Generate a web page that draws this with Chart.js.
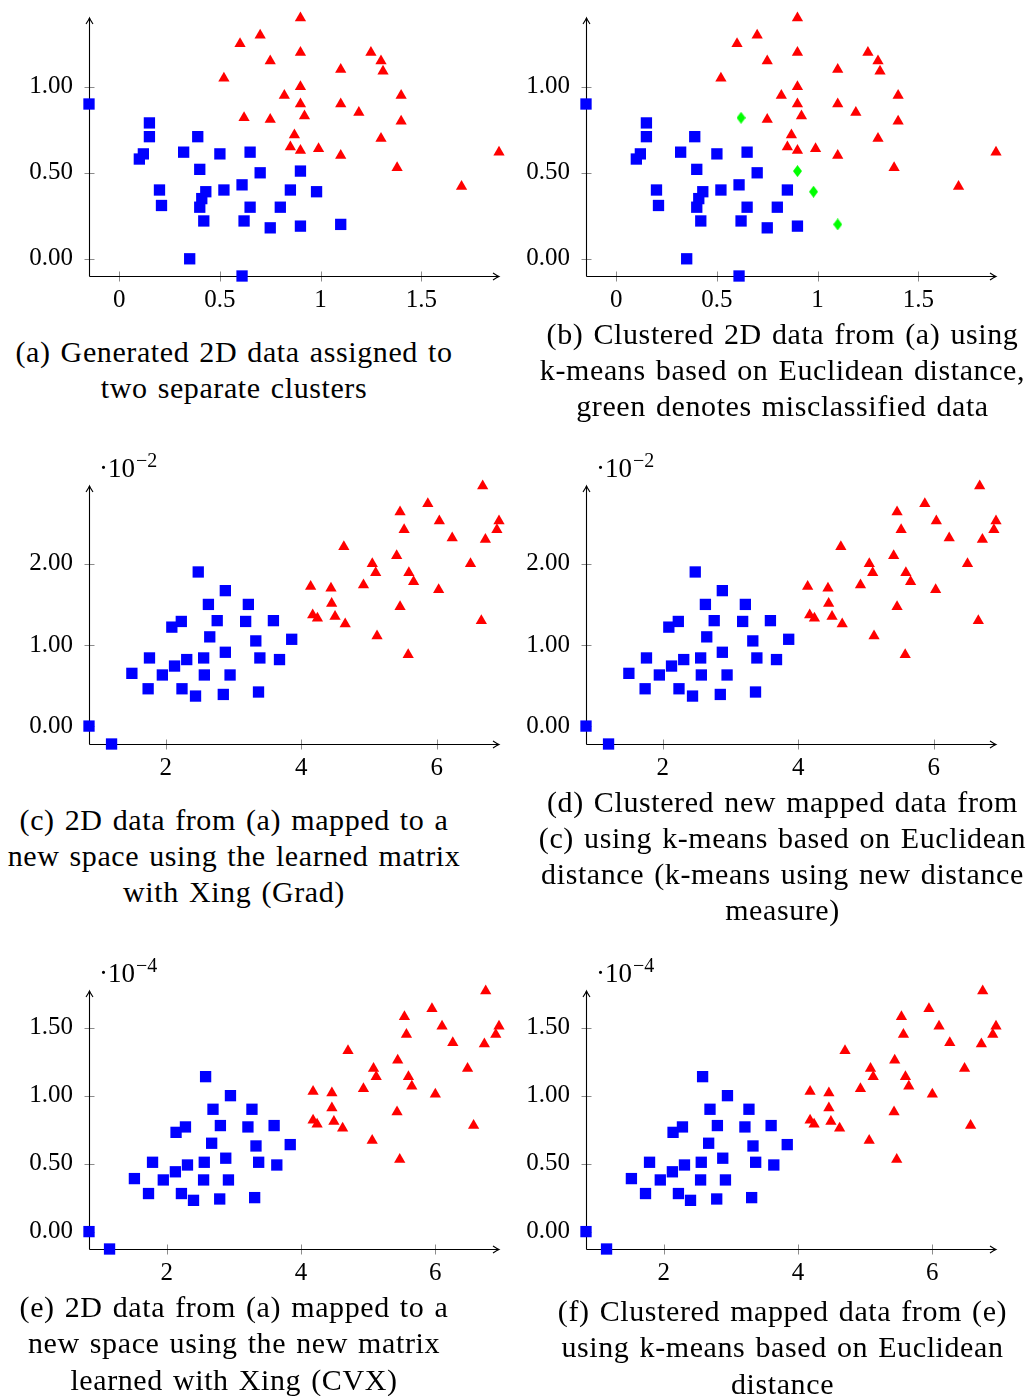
<!DOCTYPE html>
<html>
<head>
<meta charset="utf-8">
<script src="https://cdn.jsdelivr.net/npm/chart.js@4.4.0/dist/chart.umd.min.js"></script>
<style>
  body { margin: 0; background: #fff; }
  #fig { position: relative; width: 1027px; height: 1396px; overflow: hidden; }
  canvas.panel { position: absolute; }
  .cap {
    position: absolute; width: 560px; text-align: center; white-space: nowrap;
    font-family: 'Liberation Serif', serif; font-size: 30px; line-height: 36px;
    letter-spacing: 0.6px; word-spacing: 2px; color: #000;
  }
</style>
</head>
<body>
<div id="fig"></div>
<script>
// ---- data ----

// (a) generated 2D data, (b) same data after k-means
const blueA = [[-0.15,0.90],[0.15,0.79],[0.15,0.71],[0.12,0.61],[0.10,0.58],[0.32,0.62],[0.39,0.71],[0.50,0.61],
  [0.65,0.62],[0.40,0.52],[0.70,0.50],[0.90,0.51],[0.20,0.40],[0.21,0.31],[0.43,0.39],[0.41,0.35],[0.40,0.30],
  [0.52,0.40],[0.61,0.43],[0.85,0.40],[0.98,0.39],[0.65,0.30],[0.80,0.30],[0.42,0.22],[0.62,0.22],[0.75,0.18],
  [0.90,0.19],[1.10,0.20],[0.35,0.00],[0.61,-0.10]];
const redA = [[0.90,1.40],[0.70,1.30],[0.60,1.25],[0.90,1.20],[0.75,1.15],[1.25,1.20],[1.30,1.15],[1.31,1.09],
  [1.10,1.10],[0.52,1.05],[0.90,1.00],[0.82,0.95],[1.40,0.95],[0.90,0.90],[1.10,0.90],[1.19,0.85],[0.92,0.83],
  [0.62,0.82],[0.75,0.81],[1.40,0.80],[0.87,0.72],[1.30,0.70],[0.85,0.65],[0.90,0.63],[0.99,0.64],[1.10,0.60],
  [1.886,0.62],[1.38,0.53],[1.70,0.42]];
const greenB = [[0.62,0.82],[0.90,0.51],[0.98,0.39],[1.10,0.20]]; // misclassified in (b)

// (c)/(d) mapped with Xing (Grad), y in 1e-2
const blueC = [[0.867,0.00],[1.20,-0.221],[1.50,0.65],[1.74,0.46],[1.76,0.84],[1.95,0.63],[2.09,1.22],[2.23,1.29],
  [2.13,0.74],[2.31,0.82],[2.24,0.46],[2.44,0.37],[2.48,1.90],[2.56,0.84],[2.57,0.63],[2.65,1.10],[2.63,1.50],
  [2.76,1.30],[2.88,1.67],[2.88,0.91],[2.95,0.63],[2.85,0.39],[3.22,1.50],[3.18,1.29],[3.33,1.05],[3.39,0.84],
  [3.37,0.42],[3.59,1.30],[3.68,0.82],[3.86,1.07]];
const redC = [[6.68,2.96],[5.87,2.74],[5.46,2.64],[6.04,2.53],[6.921,2.53],[5.52,2.42],[6.89,2.42],[6.23,2.32],
  [6.72,2.30],[4.63,2.21],[5.41,2.10],[5.05,2.00],[6.50,2.00],[5.10,1.89],[5.59,1.89],[5.66,1.78],[4.92,1.74],
  [4.14,1.72],[4.44,1.70],[6.03,1.68],[4.45,1.51],[5.46,1.47],[4.17,1.37],[4.24,1.33],[4.50,1.35],[4.65,1.26],
  [6.66,1.30],[5.12,1.11],[5.58,0.88]];

// (e)/(f) mapped with Xing (CVX), y in 1e-4
const blueE = [[0.844,0.00],[1.15,-0.128],[1.52,0.39],[1.73,0.28],[1.79,0.51],[1.95,0.38],[2.13,0.44],[2.14,0.73],
  [2.28,0.77],[2.22,0.28],[2.31,0.49],[2.40,0.23],[2.56,0.51],[2.55,0.38],[2.58,1.14],[2.67,0.65],[2.69,0.90],
  [2.80,0.78],[2.88,0.54],[2.92,0.38],[2.79,0.24],[2.95,1.00],[3.27,0.90],[3.21,0.77],[3.33,0.63],[3.37,0.51],
  [3.31,0.25],[3.60,0.78],[3.64,0.49],[3.84,0.64]];
const redE = [[6.75,1.77],[5.95,1.64],[5.54,1.58],[6.10,1.51],[6.948,1.51],[5.57,1.45],[6.90,1.45],[6.26,1.39],
  [6.73,1.38],[4.70,1.33],[5.44,1.26],[5.08,1.20],[6.48,1.20],[5.12,1.14],[5.60,1.14],[5.65,1.07],[4.93,1.05],
  [4.18,1.03],[4.46,1.02],[6.00,1.01],[4.46,0.91],[5.43,0.88],[4.18,0.82],[4.24,0.79],[4.49,0.81],[4.62,0.76],
  [6.57,0.78],[5.06,0.67],[5.47,0.53]];

// tick values
const xTicksA = [0, 0.5, 1, 1.5];
const yTicksA = [0, 0.5, 1];
const xTicksC = [2, 4, 6];
const yTicksC = [0, 1, 2];
const xTicksE = [2, 4, 6];
const yTicksE = [0, 0.5, 1, 1.5];

// ---- helpers ----
const PAD = { left: 90, top: 40, right: 12, bottom: 45 };
const fig = document.getElementById('fig');

Chart.defaults.font.family = "'Liberation Serif', serif";
Chart.defaults.color = '#000';

const isGreen = p => greenB.some(g => g[0] === p[0] && g[1] === p[1]);
const toXY = pts => pts.map(([x, y]) => ({ x, y }));

// pgfplots style diamond* marker
const diamond = document.createElement('canvas');
diamond.width = 9; diamond.height = 12;
(function () {
    const c = diamond.getContext('2d');
    c.fillStyle = '#00ff00';
    c.beginPath();
    c.moveTo(4.5, 0); c.lineTo(9, 6); c.lineTo(4.5, 12); c.lineTo(0, 6);
    c.closePath(); c.fill();
})();

const blueSet = pts => ({ pts, style: 'rect', r: 8, color: '#0000ff' });
const redSet = pts => ({ pts, style: 'triangle', r: 6.5, color: '#ff0000' });
const greenSet = pts => ({ pts, style: diamond, r: 6, color: '#00ff00' });

// axis lines with arrow tips, crossing ticks, and the 10^k multiplier
const arrowAxes = {
    id: 'arrowAxes',
    beforeDatasetsDraw(chart, args, opts) {
        const { ctx, chartArea: a, scales: { x, y } } = chart;
        const L = Math.round(a.left) + 0.5, B = Math.round(a.bottom) + 0.5;
        ctx.save();
        ctx.lineWidth = 1;
        ctx.strokeStyle = '#8c8c8c';
        ctx.beginPath();
        x.ticks.forEach(t => {
            const px = Math.round(x.getPixelForValue(t.value)) + 0.5;
            ctx.moveTo(px, B - 5); ctx.lineTo(px, B + 5);
        });
        y.ticks.forEach(t => {
            const py = Math.round(y.getPixelForValue(t.value)) + 0.5;
            ctx.moveTo(L - 5, py); ctx.lineTo(L + 5, py);
        });
        ctx.stroke();

        ctx.strokeStyle = '#000';
        ctx.lineWidth = 1.1;
        ctx.beginPath();
        ctx.moveTo(L, B); ctx.lineTo(a.right, B);
        ctx.moveTo(L, B); ctx.lineTo(L, a.top);
        ctx.stroke();
        // "to" arrow tips
        ctx.beginPath();
        ctx.moveTo(a.right - 6, B - 3.5); ctx.quadraticCurveTo(a.right - 2, B - 0.8, a.right, B);
        ctx.quadraticCurveTo(a.right - 2, B + 0.8, a.right - 6, B + 3.5);
        ctx.moveTo(L - 3.5, a.top + 6); ctx.quadraticCurveTo(L - 0.8, a.top + 2, L, a.top);
        ctx.quadraticCurveTo(L + 0.8, a.top + 2, L + 3.5, a.top + 6);
        ctx.stroke();

        if (opts.exponent) {
            ctx.fillStyle = '#000';
            ctx.textBaseline = 'alphabetic';
            ctx.font = "27px 'Liberation Serif', serif";
            const bx = a.left + 10, by = a.top - 9;
            ctx.fillText('\u00b710', bx, by);
            const w = ctx.measureText('\u00b710').width;
            ctx.font = "20px 'Liberation Serif', serif";
            ctx.fillText(opts.exponent, bx + w + 1, by - 10);
        }
        ctx.restore();
    }
};

function axis(range, ticks, fmt, dir) {
    return {
        type: 'linear', min: range[0], max: range[1], bounds: 'data',
        grid: { display: false, drawTicks: false },
        border: { display: false },
        ticks: {
            padding: dir === 'x' ? 9 : 16,
            font: { size: 25 },
            color: '#000',
            maxRotation: 0,
            autoSkip: false,
            callback: v => fmt(v)
        },
        afterBuildTicks: s => { s.ticks = ticks.map(v => ({ value: v })); },
        afterFit: s => {
            if (dir === 'x') s.height = PAD.bottom; else s.width = PAD.left;
            s.paddingLeft = s.paddingRight = s.paddingTop = s.paddingBottom = 0;
        }
    };
}

function makePanel(p) {
    const cv = document.createElement('canvas');
    cv.className = 'panel';
    const W = p.area.r - p.area.l + PAD.left + PAD.right;
    const H = p.area.b - p.area.t + PAD.top + PAD.bottom;
    cv.width = W; cv.height = H;
    cv.style.width = W + 'px'; cv.style.height = H + 'px';
    cv.style.left = (p.area.l - PAD.left) + 'px';
    cv.style.top = (p.area.t - PAD.top) + 'px';
    fig.appendChild(cv);

    return new Chart(cv, {
        type: 'scatter',
        data: {
            datasets: p.sets.map(s => ({
                data: toXY(s.pts),
                pointStyle: s.style,
                pointRadius: s.r,
                pointHoverRadius: s.r,
                pointBackgroundColor: s.color,
                pointBorderWidth: 0,
                pointHoverBorderWidth: 0,
                clip: false
            }))
        },
        options: {
            responsive: false,
            animation: false,
            events: [],
            layout: { padding: { left: 0, top: PAD.top, right: PAD.right, bottom: 0 } },
            plugins: {
                legend: { display: false },
                tooltip: { enabled: false },
                arrowAxes: { exponent: p.exp || '' }
            },
            scales: {
                x: axis(p.xr, p.xt, p.xfmt, 'x'),
                y: axis(p.yr, p.yt, p.yfmt, 'y')
            }
        },
        plugins: [arrowAxes]
    });
}

const fmtPlain = v => String(v);
const fmt2 = v => v.toFixed(2);
const DX = 497; // right column offset

const panels = [
    { area: { l: 89, t: 18, r: 499, b: 276 }, xr: [-0.15, 1.886], yr: [-0.10, 1.40],
      xt: xTicksA, yt: yTicksA, xfmt: fmtPlain, yfmt: fmt2,
      sets: [blueSet(blueA), redSet(redA)] },
    { area: { l: 89 + DX, t: 18, r: 499 + DX, b: 276 }, xr: [-0.15, 1.886], yr: [-0.10, 1.40],
      xt: xTicksA, yt: yTicksA, xfmt: fmtPlain, yfmt: fmt2,
      sets: [blueSet(blueA.filter(p => !isGreen(p))), redSet(redA.filter(p => !isGreen(p))), greenSet(greenB)] },
    { area: { l: 89, t: 486, r: 499, b: 744 }, xr: [0.867, 6.921], yr: [-0.221, 2.96],
      xt: xTicksC, yt: yTicksC, xfmt: fmtPlain, yfmt: fmt2, exp: '\u22122',
      sets: [blueSet(blueC), redSet(redC)] },
    { area: { l: 89 + DX, t: 486, r: 499 + DX, b: 744 }, xr: [0.867, 6.921], yr: [-0.221, 2.96],
      xt: xTicksC, yt: yTicksC, xfmt: fmtPlain, yfmt: fmt2, exp: '\u22122',
      sets: [blueSet(blueC), redSet(redC)] },
    { area: { l: 89, t: 991, r: 499, b: 1249 }, xr: [0.844, 6.948], yr: [-0.128, 1.77],
      xt: xTicksE, yt: yTicksE, xfmt: fmtPlain, yfmt: fmt2, exp: '\u22124',
      sets: [blueSet(blueE), redSet(redE)] },
    { area: { l: 89 + DX, t: 991, r: 499 + DX, b: 1249 }, xr: [0.844, 6.948], yr: [-0.128, 1.77],
      xt: xTicksE, yt: yTicksE, xfmt: fmtPlain, yfmt: fmt2, exp: '\u22124',
      sets: [blueSet(blueE), redSet(redE)] }
];
panels.forEach(makePanel);

// sub-captions (line centres in px)
const captions = [
    { cx: 234, ys: [352, 388], lines: ['(a) Generated 2D data assigned to', 'two separate clusters'] },
    { cx: 782.5, ys: [334, 370, 406], lines: ['(b) Clustered 2D data from (a) using',
        'k-means based on Euclidean distance,', 'green denotes misclassified data'] },
    { cx: 234, ys: [820, 856, 892], lines: ['(c) 2D data from (a) mapped to a',
        'new space using the learned matrix', 'with Xing (Grad)'] },
    { cx: 782.5, ys: [802, 838, 874, 910], lines: ['(d) Clustered new mapped data from',
        '(c) using k-means based on Euclidean', 'distance (k-means using new distance', 'measure)'] },
    { cx: 234, ys: [1307, 1343, 1380], lines: ['(e) 2D data from (a) mapped to a',
        'new space using the new matrix', 'learned with Xing (CVX)'] },
    { cx: 782.5, ys: [1311, 1347, 1384], lines: ['(f) Clustered mapped data from (e)',
        'using k-means based on Euclidean', 'distance'] }
];
captions.forEach(c => {
    c.lines.forEach((txt, i) => {
        const d = document.createElement('div');
        d.className = 'cap';
        d.textContent = txt;
        d.style.left = (c.cx - 280) + 'px';
        d.style.top = (c.ys[i] - 18) + 'px';
        fig.appendChild(d);
    });
});
</script>
</body>
</html>
